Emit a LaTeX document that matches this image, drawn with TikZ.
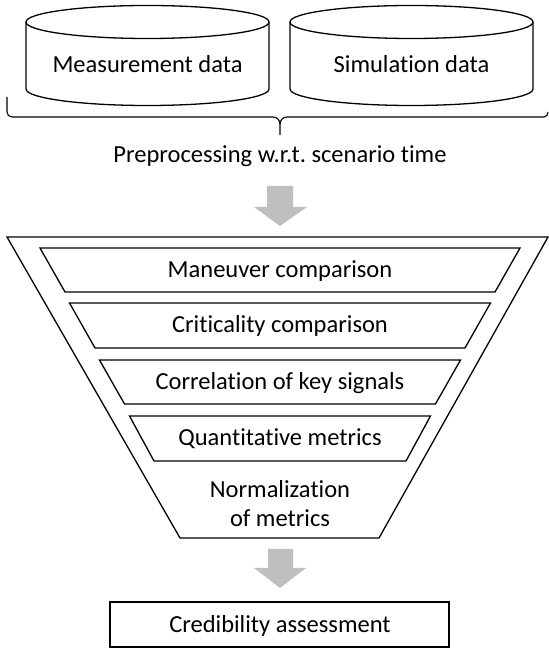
\documentclass[tikz,border=0pt]{standalone}
\usepackage{fontspec}
\setmainfont{Carlito}[RawFeature=-liga]
\definecolor{arrowgray}{RGB}{191,191,191}
\frenchspacing
\begin{document}
\begin{tikzpicture}[x=1pt,y=1pt,line width=1.3pt,line join=miter,
  lbl/.style={inner sep=0pt,anchor=base,font=\fontsize{24.5}{29}\selectfont},
  blockarrow/.style={fill=arrowgray,draw=none},
  outline/.style={draw=black,line width=1.3pt}]
\useasboundingbox (0,0) rectangle (549,651);
% cylinders
\draw[outline] (147.5,629) ellipse [x radius=121.5, y radius=16.5];
\draw[outline] (26,629) -- (26,562) arc[start angle=180,end angle=360,x radius=121.5,y radius=16.5] -- (269,629);
\draw[outline] (411.5,629) ellipse [x radius=121.5, y radius=16.5];
\draw[outline] (290,629) -- (290,562) arc[start angle=180,end angle=360,x radius=121.5,y radius=16.5] -- (533,629);
\node[lbl] (meas) at (147.5,578) {Measurement data};
\node[lbl] (sim) at (411.5,578) {Simulation data};
% brace
\coordinate (btip) at (280,516);
\draw[outline,line width=1.1pt] (7,554) -- (7,539) to[out=-90,in=180] (12,534) -- (273,534) to[out=0,in=90] (280,527) -- (btip);
\draw[outline,line width=1.1pt] (548,539) to[out=-90,in=0] (544,534) -- (287,534) to[out=180,in=90] (280,527);
\node[lbl] (prep) at (280,488) {Preprocessing w.r.t. scenario time};
% arrow 1
\fill[blockarrow] (267,465) -- (293,465) -- (293,444) -- (307,444) -- (280,425) -- (254,444) -- (267,444) -- cycle;
% funnel
\draw[outline] (7,414) -- (548,414) -- (379,113) -- (180,113) -- cycle;
\draw[outline] (40,403) -- (520,403) -- (495,359) -- (65,359) -- cycle;
\draw[outline] (69.5,348) -- (490.5,348) -- (465,303) -- (95,303) -- cycle;
\draw[outline] (99.5,291) -- (460.5,291) -- (435.5,247) -- (124.5,247) -- cycle;
\draw[outline] (129.5,235) -- (430.5,235) -- (406,190) -- (154,190) -- cycle;
\node[lbl] (man) at (280,373.5) {Maneuver comparison};
\node[lbl] (crit) at (280,318) {Criticality comparison};
\node[lbl] (corr) at (280,261.5) {Correlation of key signals};
\node[lbl] (quant) at (280,205) {Quantitative metrics};
\node[lbl,anchor=center,align=center] (norm) at (280,147) {Normalization\\of metrics};
% arrow 2
\fill[blockarrow] (268,102) -- (293,102) -- (293,83) -- (306,83) -- (280,63) -- (254,83) -- (268,83) -- cycle;
% result box
\node[outline,minimum width=339pt,minimum height=45pt,inner sep=0pt] (cred) at (279.5,26.5) {};
\node[lbl] (credt) at (280,19) {Credibility assessment};
\end{tikzpicture}
\end{document}
